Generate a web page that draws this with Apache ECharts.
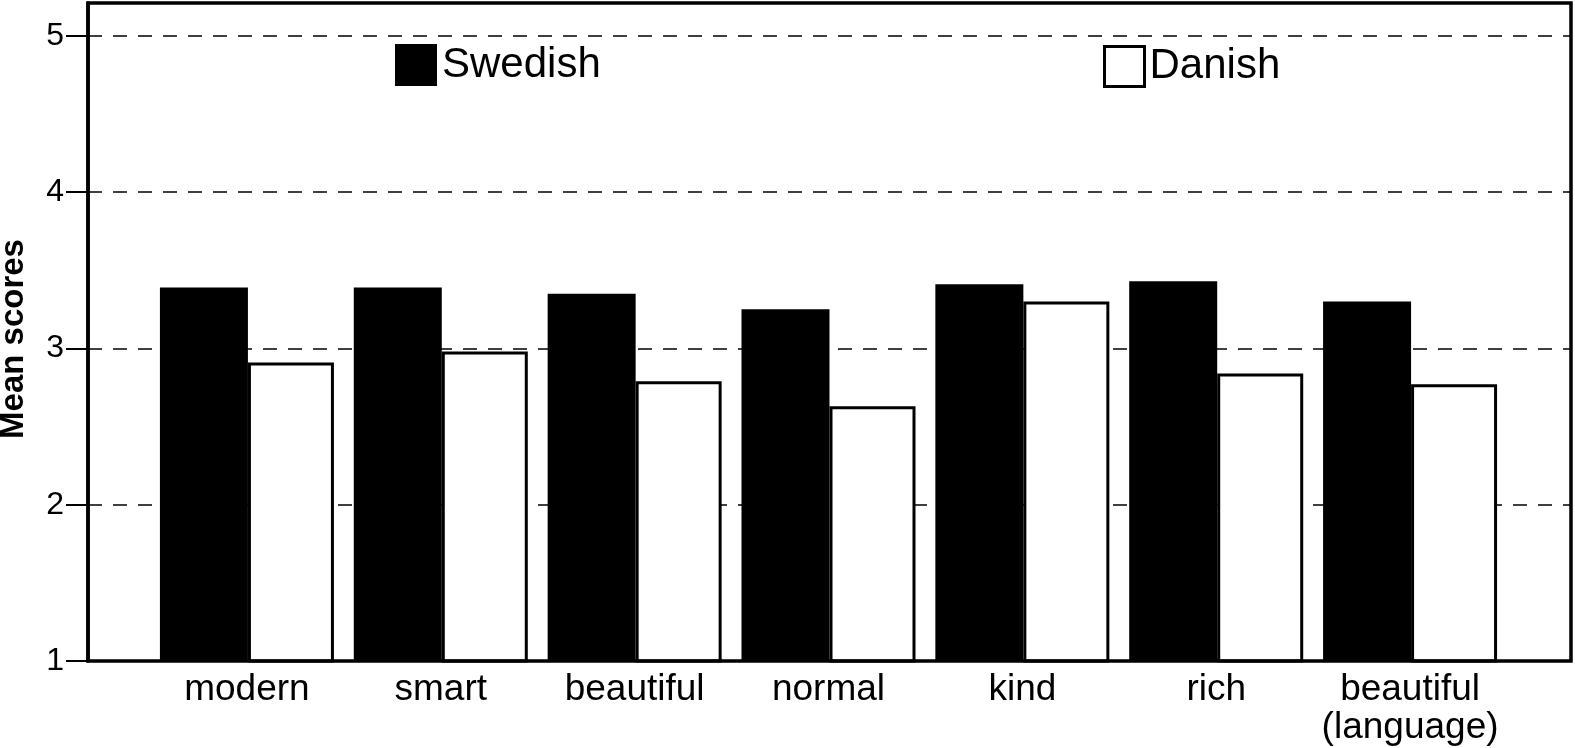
<!DOCTYPE html>
<html>
<head>
<meta charset="utf-8">
<script src="https://cdn.jsdelivr.net/npm/echarts@6/dist/echarts.min.js"></script>
<style>
html,body{margin:0;padding:0;background:#fff;}
#chart{width:1575px;height:748px;}
</style>
</head>
<body>
<div id="chart"></div>
<script>
var categories = ['modern', 'smart', 'beautiful', 'normal', 'kind', 'rich', 'beautiful\n(language)'];
var swedish = [3.39, 3.39, 3.35, 3.25, 3.41, 3.43, 3.30];
var danish = [2.91, 2.98, 2.79, 2.63, 3.30, 2.84, 2.77];
var yTicks = [1, 2, 3, 4, 5];

var FONT = '"Liberation Sans", Arial, Helvetica, sans-serif';
var chart = echarts.init(document.getElementById('chart'), null, {renderer: 'canvas'});

chart.setOption({
  animation: false,
  backgroundColor: '#fff',
  textStyle: {fontFamily: FONT, color: '#000'},
  legend: [
    {
      left: 395, top: 44, padding: 0,
      itemWidth: 42, itemHeight: 42,
      icon: 'rect',
      textStyle: {fontSize: 42, color: '#000', fontFamily: FONT, padding: [10, 0, 0, 0]},
      data: [{name: 'Swedish', itemStyle: {color: '#000', borderWidth: 0}}]
    },
    {
      left: 1103, top: 45, padding: 0,
      itemWidth: 40, itemHeight: 40,
      icon: 'rect',
      textStyle: {fontSize: 42, color: '#000', fontFamily: FONT, padding: [10, 0, 0, 0]},
      data: [{name: 'Danish', itemStyle: {color: '#fff', borderColor: '#000', borderWidth: 3}}]
    }
  ],
  grid: [
    {left: 88, right: 4, top: 3, bottom: 87, show: true, borderColor: '#000', borderWidth: 3.5, backgroundColor: 'transparent', z: 3, outerBoundsMode: 'none', containLabel: false},
    {left: 150, right: 68, top: 3, bottom: 87, outerBoundsMode: 'none', containLabel: false}
  ],
  xAxis: [
    {type: 'value', gridIndex: 0, min: 0, max: 1, show: false},
    {
      type: 'category', gridIndex: 1, data: categories,
      axisLine: {show: false}, axisTick: {show: false},
      axisLabel: {fontSize: 37, color: '#000', margin: 10, lineHeight: 38, fontFamily: FONT, interval: 0}
    }
  ],
  yAxis: [
    {
      type: 'value', gridIndex: 0, min: 1, max: 5.21, interval: 1,
      name: 'Mean scores', nameLocation: 'middle', nameRotate: 90, nameGap: 58,
      nameTextStyle: {fontSize: 33, fontWeight: 'bold', color: '#000', fontFamily: FONT, padding: [0, 14, 0, 0]},
      axisLine: {show: true, lineStyle: {color: '#000', width: 3.5}},
      axisTick: {show: true, length: 22, customValues: yTicks, lineStyle: {color: '#000', width: 2}},
      axisLabel: {fontSize: 32, color: '#000', margin: 24, customValues: yTicks, padding: [12, 0, 0, 0], fontFamily: FONT},
      splitLine: {show: true, lineStyle: {color: '#000', width: 1.5, type: [14, 11]}}
    },
    {type: 'value', gridIndex: 1, min: 1, max: 5.21, show: false}
  ],
  series: [
    {
      name: 'Swedish', type: 'bar', xAxisIndex: 1, yAxisIndex: 1,
      data: swedish, barWidth: 88, barGap: '0%',
      itemStyle: {color: '#000'}
    },
    {
      name: 'Danish', type: 'bar', xAxisIndex: 1, yAxisIndex: 1,
      data: danish, barWidth: 86, barGap: '0%',
      itemStyle: {color: '#fff', borderColor: '#000', borderWidth: 3}
    }
  ]
});
</script>
</body>
</html>
